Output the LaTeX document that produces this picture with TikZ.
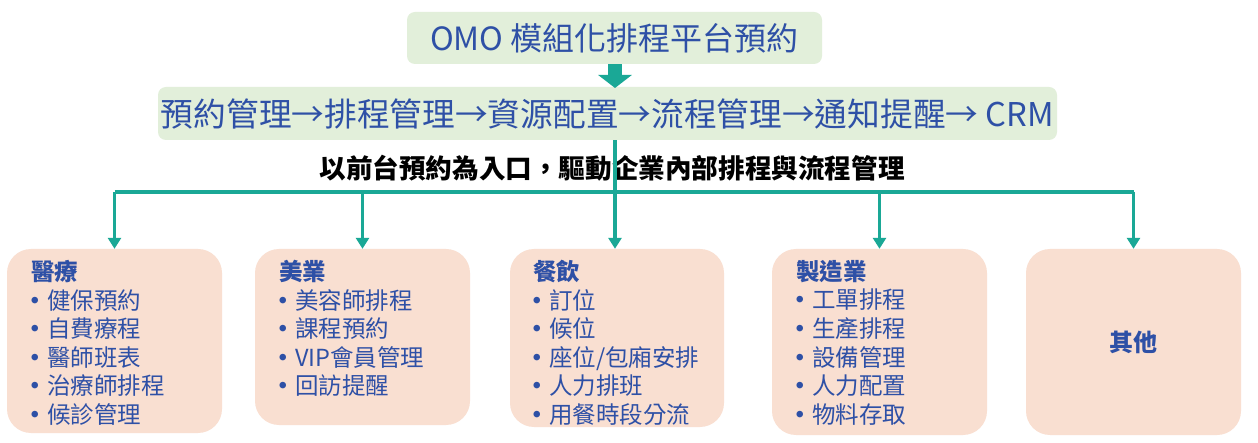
\documentclass[tikz,border=0pt]{standalone}
\usepackage{fontspec}
\setmainfont{Noto Sans CJK TC}
\usetikzlibrary{arrows.meta}
\definecolor{tblue}{RGB}{46,80,166}
\definecolor{teal1}{RGB}{26,168,150}
\definecolor{gfill}{RGB}{226,239,218}
\definecolor{pfill}{RGB}{249,223,209}
\newcommand\itm{\makebox[16pt][l]{\hspace{-7.5pt}\textbf{•}}}
\begin{document}
\begin{tikzpicture}[x=1pt,y=-1pt,
  topbox/.style={fill=gfill, rounded corners=8pt, inner sep=0pt, text=tblue},
  catbox/.style={fill=pfill, rounded corners=24pt, inner sep=0pt, minimum width=215pt},
  trunk/.style={draw=teal1, line width=3.3pt},
  link/.style={draw=teal1, line width=3.3pt, -{Triangle[length=11pt,width=13pt]}},
  cattext/.style={anchor=north west, align=left, text=tblue, inner sep=0pt, font=\fontsize{23.5}{28.6}\selectfont}]
\useasboundingbox (0,0) rectangle (1258,443);
\fill[white] (0,0) rectangle (1258,443);

\node[topbox, minimum width=415pt, minimum height=52pt, font=\fontsize{32}{38}\selectfont] (top) at (614.5,38) {OMO 模組化排程平台預約};
\node[topbox, minimum width=899pt, minimum height=53pt, font=\fontsize{32.7}{38}\selectfont] (main) at (607.5,113.5) {預約管理→排程管理→資源配置→流程管理→通知提醒→ CRM};
\draw[teal1, line width=14pt, -{Triangle[length=13pt,width=33pt]}] (top.south -| 615,0) -- (615,88);

\node[catbox, minimum height=184pt] (b1) at (114.5,341) {};
\node[catbox, minimum height=176pt] (b2) at (362.5,337) {};
\node[catbox, minimum height=178pt, minimum width=214pt] (b3) at (617,338) {};
\node[catbox, minimum height=186pt] (b4) at (879.5,342) {};
\node[catbox, minimum height=186pt] (b5) at (1133.5,342) {};

\node[font=\fontsize{26.6}{30}\selectfont\bfseries, text=black] (sub) at (612,168) {以前台預約為入口，驅動企業內部排程與流程管理};

\coordinate (bus) at (615,192);
\draw[link] (main.south -| bus) -- (b3.north -| bus);
\draw[trunk] (b1.north |- bus) -- (b5.north |- bus);
\draw[link] (b1.north |- bus) -- (b1.north);
\draw[link] (b2.north |- bus) -- (b2.north);
\draw[link] (b4.north |- bus) -- (b4.north);
\draw[link] (b5.north |- bus) -- (b5.north);

\node[cattext] (t1) at (31,260) {\textbf{醫療}\\\itm 健保預約\\\itm 自費療程\\\itm 醫師班表\\\itm 治療師排程\\\itm 候診管理};
\node[cattext] (t2) at (279,260) {\textbf{美業}\\\itm 美容師排程\\\itm 課程預約\\\itm VIP會員管理\\\itm 回訪提醒};
\node[cattext] (t3) at (533,260) {\textbf{餐飲}\\\itm 訂位\\\itm 候位\\\itm 座位/包廂安排\\\itm 人力排班\\\itm 用餐時段分流};
\node[cattext] (t4) at (796,260) {\textbf{製造業}\\\itm 工單排程\\\itm 生產排程\\\itm 設備管理\\\itm 人力配置\\\itm 物料存取};
\node[text=tblue, font=\fontsize{24}{28}\selectfont\bfseries] (t5) at (b5.center) {其他};
\end{tikzpicture}
\end{document}
